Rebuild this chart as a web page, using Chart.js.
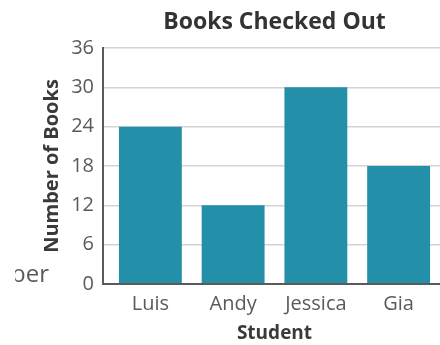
<!DOCTYPE html>
<html>
<head>
<meta charset="utf-8">
<script src="https://cdn.jsdelivr.net/npm/chart.js@4"></script>
<style>
  html, body { margin: 0; padding: 0; background: #fff; overflow: hidden; width: 440px; height: 345px; }
  #wrap { position: relative; width: 440px; height: 345px; }
  #stub { position: absolute; left: 15px; width: 34px; top: 258px; height: 32px; overflow: hidden; }
  #stub span { position: absolute; right: 0; top: 3px; font: 400 24px/1 "Open Sans", sans-serif; color: #5a5a5a; white-space: nowrap; }
</style>
</head>
<body>
<div id="wrap">
  <canvas id="c" width="440" height="345"></canvas>
  <div id="stub"><span>Number</span></div>
</div>
<script>
const chartTitle = "Books Checked Out";
const xTitle = "Student";
const yTitle = "Number of Books";
const students = ["Luis", "Andy", "Jessica", "Gia"];
const booksCheckedOut = [24, 12, 30, 18];
const yTicks = [0, 6, 12, 18, 24, 30, 36];

const FONT = '"Open Sans", sans-serif';

const axisLines = {
  id: 'axisLines',
  afterDatasetsDraw(chart) {
    const {ctx, chartArea, scales} = chart;
    const y = scales.y;
    const x0 = chartArea.left - y.options.grid.tickLength;
    const yb = y.getPixelForValue(yTicks[0]);
    const yt = y.getPixelForValue(yTicks[yTicks.length - 1]);
    ctx.save();
    ctx.strokeStyle = '#5a5a5a';
    ctx.lineWidth = 2;
    ctx.beginPath();
    ctx.moveTo(x0, yt - 1);
    ctx.lineTo(x0, yb);
    ctx.lineTo(chartArea.right + 10, yb);
    ctx.stroke();
    ctx.restore();
  }
};

new Chart(document.getElementById('c'), {
  type: 'bar',
  data: {
    labels: students,
    datasets: [{
      data: booksCheckedOut,
      backgroundColor: '#238fa9',
      borderWidth: 0,
      categoryPercentage: 0.76,
      barPercentage: 1.0
    }]
  },
  options: {
    responsive: false,
    animation: false,
    devicePixelRatio: 1,
    layout: { padding: 0 },
    plugins: {
      legend: { display: false },
      tooltip: { enabled: false },
      title: {
        display: true,
        fullSize: false,
        text: chartTitle,
        color: '#333333',
        font: { family: FONT, size: 23, weight: 'bold' },
        padding: { top: 9, bottom: 11.4 }
      }
    },
    scales: {
      x: {
        grid: { display: false, drawTicks: false },
        border: { display: false },
        ticks: { color: '#5a5a5a', font: { family: FONT, size: 20 }, padding: 8 },
        title: {
          display: true, text: xTitle, color: '#3a3a3a',
          font: { family: FONT, size: 19, weight: 'bold' },
          padding: { top: 0, bottom: 0 }
        },
        afterFit(s) { s.height = 61; }
      },
      y: {
        min: yTicks[0],
        max: yTicks[yTicks.length - 1],
        afterBuildTicks(s) { s.ticks = yTicks.map(v => ({ value: v })); },
        grid: { color: '#d4d4d4', lineWidth: 1.5, tickLength: 6, drawTicks: true },
        border: { display: false },
        ticks: { color: '#5a5a5a', font: { family: FONT, size: 20 }, padding: 9 },
        title: {
          display: true, text: yTitle, color: '#3a3a3a',
          font: { family: FONT, size: 20, weight: 'bold' },
          padding: { top: 40, bottom: 0 }
        },
        afterFit(s) { s.width = 109; }
      }
    }
  },
  plugins: [axisLines]
});
</script>
</body>
</html>
